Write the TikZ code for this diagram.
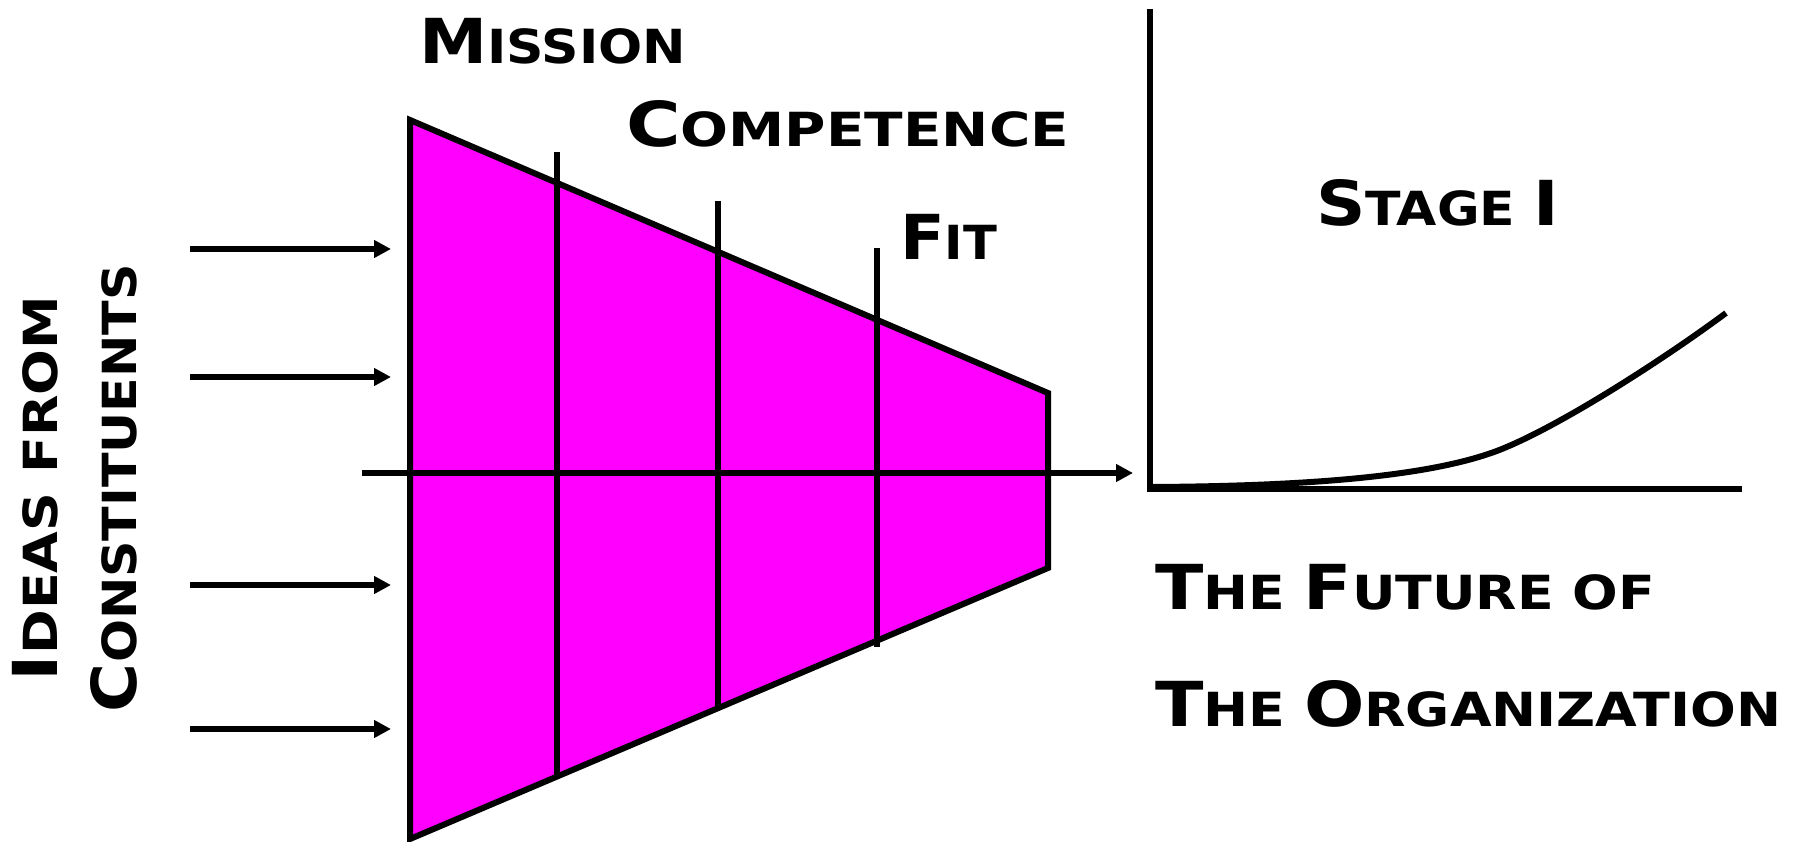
\documentclass[tikz,border=0pt]{standalone}
\usepackage{fontspec}
\setmainfont{DejaVu Sans}
\usetikzlibrary{arrows.meta}
\definecolor{funnel}{RGB}{255,0,255}
\newcommand\cgbig[1]{{\fontsize{62}{62}\selectfont #1}}
\newcommand\cgtext[2]{\resizebox{#1}{\height}{\bfseries\fontsize{47}{47}\selectfont #2}}
\tikzset{
  lbl/.style={inner sep=0pt, outer sep=0pt},
  thick line/.style={line width=6pt},
  feed/.style={line width=6pt, -{Triangle[length=17pt,width=17pt]}},
}
\begin{document}
\begin{tikzpicture}[x=1pt,y=-1pt]
\useasboundingbox (0,0) rectangle (1802,842);
% funnel
\coordinate (TL) at (410,120);
\coordinate (BL) at (410,839);
\coordinate (TR) at (1048,393);
\coordinate (BR) at (1048,568);
\filldraw[fill=funnel, thick line, line join=miter] (TL) -- (TR) -- (BR) -- (BL) -- cycle;
% vertical filters
\coordinate (V1t) at (557,152); \coordinate (V1b) at (557,777);
\coordinate (V2t) at (718,201); \coordinate (V2b) at (718,709);
\coordinate (V3t) at (877,248); \coordinate (V3b) at (877,647);
\draw[thick line] (V1t) -- (V1b);
\draw[thick line] (V2t) -- (V2b);
\draw[thick line] (V3t) -- (V3b);
% main axis
\coordinate (Ain) at (362,473);
\coordinate (Aout) at (1133,473);
\draw[feed] (Ain) -- (Aout);
% input arrows
\foreach \y [count=\i] in {249,377,585,729}{
  \coordinate (in\i s) at (190,\y);
  \coordinate (in\i e) at (391,\y);
  \draw[feed] (in\i s) -- (in\i e);
}
% graph
\coordinate (O) at (1150,489);
\coordinate (Ytop) at (1150,9);
\coordinate (Xend) at (1742,489);
\draw[thick line, line join=miter] (Ytop) -- (O) -- (Xend);
\coordinate (C0) at (1153,487);
\coordinate (C1) at (1494,452);
\coordinate (C2) at (1726,313);
\draw[line width=6pt] (C0) .. controls (1320,486) and (1430,475) .. (C1)
  .. controls (1552,431) and (1660,362) .. (C2);
% labels
\node[lbl, anchor=base west] (mission) at (419,64) {\cgtext{267pt}{\cgbig{M}ISSION}};
\node[lbl, anchor=base west] (competence) at (626,147) {\cgtext{443pt}{\cgbig{C}OMPETENCE}};
\node[lbl, anchor=base west] (fit) at (900,260) {\cgtext{97pt}{\cgbig{F}IT}};
\node[lbl, anchor=base west] (stage) at (1316,226) {\cgtext{243pt}{\cgbig{S}TAGE \cgbig{I}}};
\node[lbl, anchor=base west] (future) at (1155,609) {\cgtext{500pt}{\cgbig{T}HE \cgbig{F}UTURE OF}};
\node[lbl, anchor=base west] (org) at (1155,726) {\cgtext{626pt}{\cgbig{T}HE \cgbig{O}RGANIZATION}};
\node[lbl, anchor=base west, rotate=90] (ideas) at (57,681) {\cgtext{385pt}{\cgbig{I}DEAS FROM}};
\node[lbl, anchor=base west, rotate=90] (constituents) at (136,712) {\cgtext{448pt}{\cgbig{C}ONSTITUENTS}};
\end{tikzpicture}
\end{document}
